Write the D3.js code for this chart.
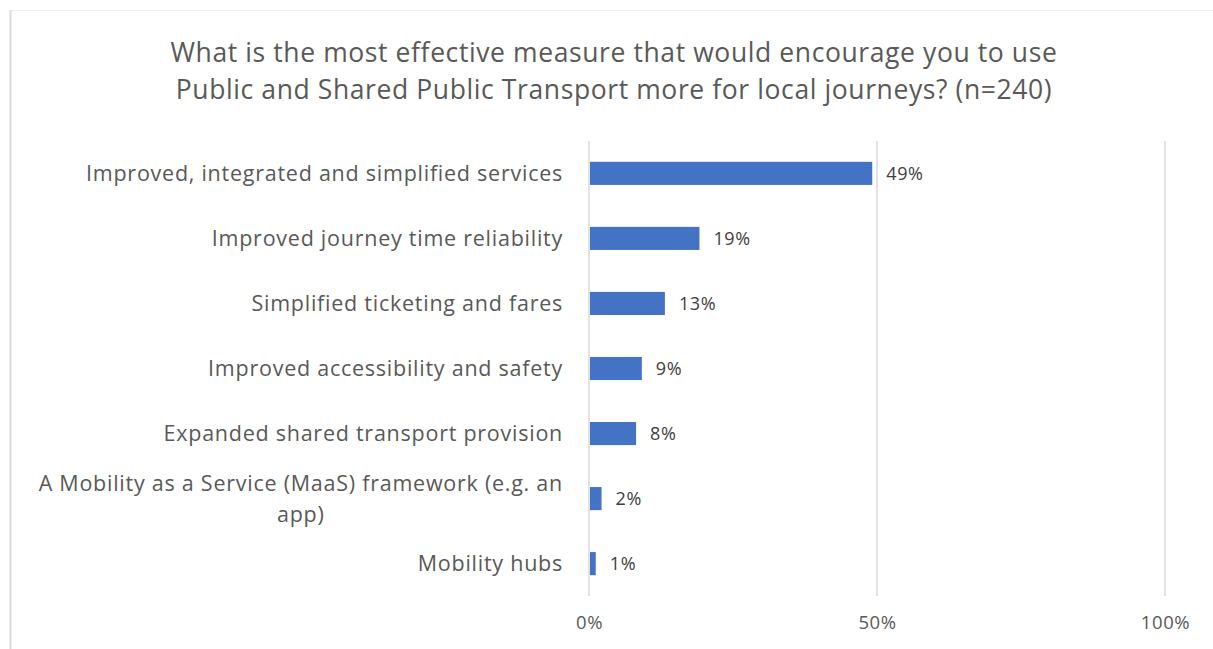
<!DOCTYPE html>
<html>
<head>
<meta charset="utf-8">
<script src="https://cdn.jsdelivr.net/npm/d3@7/dist/d3.min.js"></script>
<style>
  html, body { margin: 0; padding: 0; background: #ffffff; }
  svg { display: block; }
  text { font-family: "Open Sans", "Liberation Sans", sans-serif; }
</style>
</head>
<body>
<svg id="chart" width="1213" height="649"></svg>
<script>
// Survey answers, in the order shown top to bottom
const categories = [
  "Improved, integrated and simplified services",
  "Improved journey time reliability",
  "Simplified ticketing and fares",
  "Improved accessibility and safety",
  "Expanded shared transport provision",
  "A Mobility as a Service (MaaS) framework (e.g. an app)",
  "Mobility hubs"
];
const values = [49, 19, 13, 9, 8, 2, 1];
const xTicks = [0, 50, 100];
const titleLines = [
  "What is the most effective measure that would encourage you to use",
  "Public and Shared Public Transport more for local journeys? (n=240)"
];
// category label split over lines where it is wrapped
const labelLines = {
  "A Mobility as a Service (MaaS) framework (e.g. an app)": [
    "A Mobility as a Service (MaaS) framework (e.g. an",
    "app)"
  ]
};

const svg = d3.select("#chart");
const W = 1213, H = 649;

// chart frame: faint top edge, grey left edge
svg.append("line")
  .attr("x1", 10).attr("x2", W).attr("y1", 10.5).attr("y2", 10.5)
  .attr("stroke", "#f0f0f0").attr("stroke-width", 1);
svg.append("line")
  .attr("x1", 10.5).attr("x2", 10.5).attr("y1", 10).attr("y2", H)
  .attr("stroke", "#d9d9d9").attr("stroke-width", 2);

const plot = { left: 589, right: 1165, top: 141, bottom: 596 };

const x = d3.scaleLinear().domain([0, 100]).range([plot.left, plot.right]);
const y = d3.scaleBand().domain(categories)
  .range([plot.top, plot.bottom]).paddingInner(0.645).paddingOuter(0.32);

// title
svg.append("g").selectAll("text")
  .data(titleLines).join("text")
  .attr("x", 614)
  .attr("y", (d, i) => 62 + i * 37)
  .attr("text-anchor", "middle")
  .attr("fill", "#595959")
  .attr("font-size", 26.5)
  .attr("letter-spacing", 0.6)
  .text(d => d);

// vertical gridlines
svg.append("g").selectAll("line")
  .data(xTicks).join("line")
  .attr("x1", d => x(d)).attr("x2", d => x(d))
  .attr("y1", plot.top).attr("y2", plot.bottom)
  .attr("stroke", "#d9d9d9").attr("stroke-width", 1.5);

// bottom axis labels
const xAxis = d3.axisBottom(x).tickValues(xTicks)
  .tickFormat(d => d + "%").tickSize(0).tickPadding(0);
const gx = svg.append("g").attr("transform", `translate(0, ${plot.bottom + 20})`).call(xAxis);
gx.select(".domain").remove();
gx.selectAll("text")
  .attr("font-family", "'Open Sans', sans-serif")
  .attr("font-size", 18.5).attr("letter-spacing", 0.6)
  .attr("fill", "#595959");

// bars
svg.append("g").selectAll("rect")
  .data(categories).join("rect")
  .attr("x", x(0) + 1)
  .attr("y", d => y(d))
  .attr("width", (d, i) => x(values[i]) - x(0))
  .attr("height", y.bandwidth())
  .attr("fill", "#4472c4");

// value labels
svg.append("g").selectAll("text")
  .data(categories).join("text")
  .attr("x", (d, i) => x(values[i]) + 15)
  .attr("y", d => y(d) + y.bandwidth() / 2)
  .attr("dy", "0.35em")
  .attr("fill", "#404040")
  .attr("font-size", 18)
  .attr("letter-spacing", 0.6)
  .text((d, i) => values[i] + "%");

// category labels (right aligned; wrapped lines centred within their block)
const labelRight = 563;
const cat = svg.append("g");
categories.forEach(c => {
  const lines = labelLines[c] || [c];
  const cy = y(c) + y.bandwidth() / 2;
  const lh = 31;
  const t = cat.append("text")
    .attr("fill", "#595959").attr("font-size", 21.5)
    .attr("letter-spacing", 0.75);
  const spans = lines.map((ln, i) => t.append("tspan")
    .attr("y", cy + (i - (lines.length - 1) / 2) * lh)
    .attr("dy", "0.35em")
    .text(ln));
  const widths = spans.map(s => s.node().getComputedTextLength());
  const maxW = d3.max(widths);
  spans.forEach((s, i) => {
    s.attr("x", labelRight - maxW + (maxW - widths[i]) / 2);
  });
});
</script>
</body>
</html>
